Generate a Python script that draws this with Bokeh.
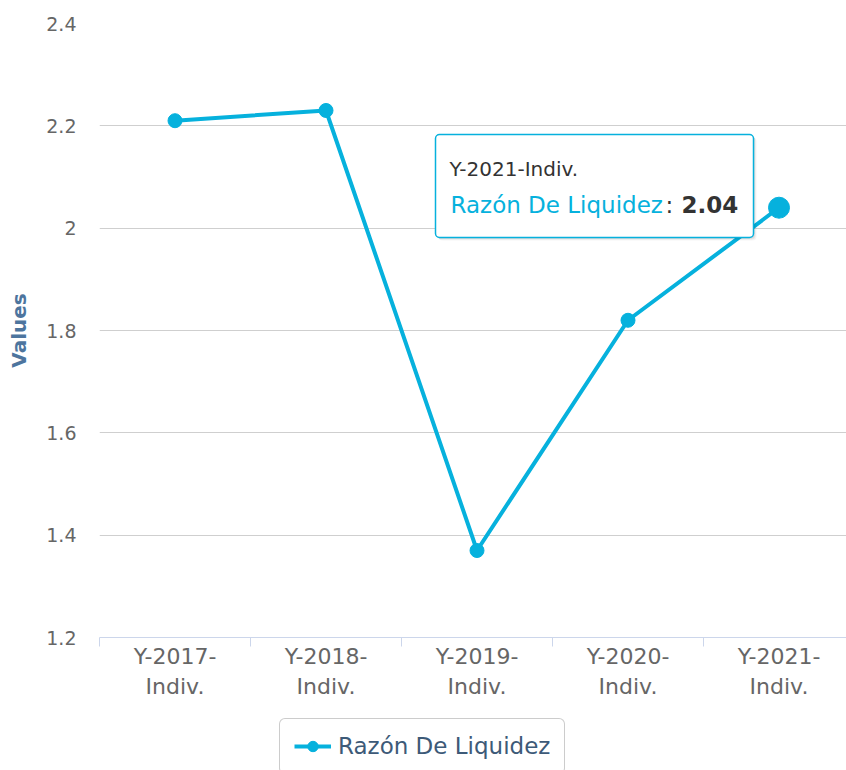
from bokeh.plotting import figure
from bokeh.layouts import column
from bokeh.models import (FixedTicker, Legend, LegendItem, BoxAnnotation, Label,
                          CustomJSTickFormatter, ColumnDataSource)
from bokeh.embed import file_html
from bokeh.resources import INLINE

# ---- data ----
categories = ["Y-2017-Indiv.", "Y-2018-Indiv.", "Y-2019-Indiv.", "Y-2020-Indiv.", "Y-2021-Indiv."]
values = [2.21, 2.23, 1.37, 1.82, 2.04]
y_ticks = [1.2, 1.4, 1.6, 1.8, 2.0, 2.2, 2.4]
series_name = "Razón De Liquidez"
axis_title = "Values"

FONT = "DejaVu Sans"
LINE = "#06b1dd"
AXIS = "#ccd6eb"

idx = list(range(len(categories)))
src = ColumnDataSource(dict(x=idx, y=values))

W = 846
H_MAIN = 712
H_LEG = 770 - H_MAIN
LEFT, TOP = 99, 23
FRAME_H = 614
CAT_W = 151

p = figure(width=W, height=H_MAIN, output_backend="svg", toolbar_location=None,
           x_range=(-0.5, -0.5 + (W - LEFT) / CAT_W), y_range=(y_ticks[0], y_ticks[-1]),
           min_border_left=LEFT, min_border_right=0, min_border_top=TOP,
           min_border_bottom=H_MAIN - TOP - FRAME_H)
p.outline_line_color = None
p.background_fill_color = "white"
p.border_fill_color = "white"

# grid
p.xgrid.visible = False
p.ygrid.grid_line_color = "#cfcfcf"
p.ygrid.grid_line_width = 1

# x axis
xa = p.xaxis[0]
xa.ticker = FixedTicker(ticks=idx, minor_ticks=[i - 0.5 for i in range(len(categories) + 1)])
xa.major_label_overrides = {i: c.replace("-Indiv.", "-\nIndiv.") for i, c in enumerate(categories)}
xa.axis_line_color = AXIS
xa.axis_line_width = 1
xa.major_tick_in = 0
xa.major_tick_out = 0
xa.minor_tick_in = 0
xa.minor_tick_out = 9
xa.minor_tick_line_color = AXIS
xa.major_label_text_font = FONT
xa.major_label_text_font_size = "22px"
xa.major_label_text_color = "#666666"
xa.major_label_standoff = -3

# y axis
ya = p.yaxis[0]
ya.ticker = FixedTicker(ticks=y_ticks)
ya.formatter = CustomJSTickFormatter(code="return (Math.round(tick*10)/10).toString();")
ya.axis_line_color = None
ya.major_tick_line_color = None
ya.minor_tick_line_color = None
ya.major_label_text_font = FONT
ya.major_label_text_font_size = "19px"
ya.major_label_text_color = "#666666"
ya.major_label_standoff = 17
ya.axis_label = axis_title
ya.axis_label_text_font = FONT
ya.axis_label_text_font_size = "20px"
ya.axis_label_text_font_style = "bold"
ya.axis_label_text_color = "#4d759e"
ya.axis_label_standoff = 12

# series
p.line("x", "y", source=src, line_width=4, line_color=LINE)
p.scatter("x", "y", source=src, size=14, fill_color=LINE, line_color=LINE)
# hovered (last) point
p.scatter(x=[idx[-1]], y=[values[-1]], size=21, fill_color=LINE, line_color=LINE)

# tooltip (hover state of the last point), frame-relative screen units
tl, tr, tt, tb = 336, 654, 503, 400
for k, a in [(3, 0.04), (2, 0.06), (1, 0.08)]:
    p.add_layout(BoxAnnotation(left=tl + k, right=tr + k, top=tt - k, bottom=tb - k,
                               left_units="screen", right_units="screen",
                               top_units="screen", bottom_units="screen",
                               fill_color="black", fill_alpha=a, line_color=None,
                               border_radius=4))
p.add_layout(BoxAnnotation(left=tl, right=tr, top=tt, bottom=tb,
                           left_units="screen", right_units="screen",
                           top_units="screen", bottom_units="screen",
                           fill_color="white", fill_alpha=1, line_color=LINE,
                           line_width=1.5, line_alpha=1, border_radius=4))
p.add_layout(Label(x=350, y=469, x_units="screen", y_units="screen",
                   text=categories[-1], text_font=FONT, text_font_size="20px",
                   text_color="#333333", text_baseline="middle"))
p.add_layout(Label(x=351, y=433, x_units="screen", y_units="screen",
                   text=series_name, text_font=FONT, text_font_size="23px",
                   text_color=LINE, text_baseline="middle"))
p.add_layout(Label(x=566, y=433, x_units="screen", y_units="screen",
                   text=":", text_font=FONT, text_font_size="23px",
                   text_color="#333333", text_baseline="middle"))
p.add_layout(Label(x=582, y=433, x_units="screen", y_units="screen",
                   text=f"{values[-1]:.2f}", text_font=FONT, text_font_size="23px",
                   text_font_style="bold", text_color="#333333", text_baseline="middle"))

# ---- legend strip (a second, axis-less figure below the chart) ----
lg = figure(width=W, height=H_LEG, output_backend="svg", toolbar_location=None,
            x_range=(100, 101), y_range=(100, 101),
            x_axis_location=None, y_axis_location=None,
            min_border_left=0, min_border_right=0, min_border_top=0, min_border_bottom=0)
lg.outline_line_color = None
lg.grid.visible = False
lg.background_fill_color = "white"
lg.border_fill_color = "white"
lr = lg.line("x", "y", source=src, line_width=4, line_color=LINE)
ls = lg.scatter("x", "y", source=src, size=12, fill_color=LINE, line_color=LINE)

PAD, ITEM_H = 14, 26
legend = Legend(items=[LegendItem(label=series_name, renderers=[lr, ls])],
                location=(180, H_LEG - 8 - (2 * PAD + ITEM_H)), orientation="horizontal",
                label_text_font=FONT, label_text_font_size="23px",
                label_text_color="#3d5a78", glyph_width=37, glyph_height=ITEM_H,
                label_standoff=7, padding=PAD, spacing=0, margin=0,
                border_line_color="#999999", border_line_width=1.5,
                background_fill_color="white", background_fill_alpha=1)
if "border_radius" in Legend.properties():
    legend.border_radius = 6
lg.add_layout(legend)

layout = column(p, lg, spacing=0)
open("out.html", "w").write(file_html(layout, INLINE))
